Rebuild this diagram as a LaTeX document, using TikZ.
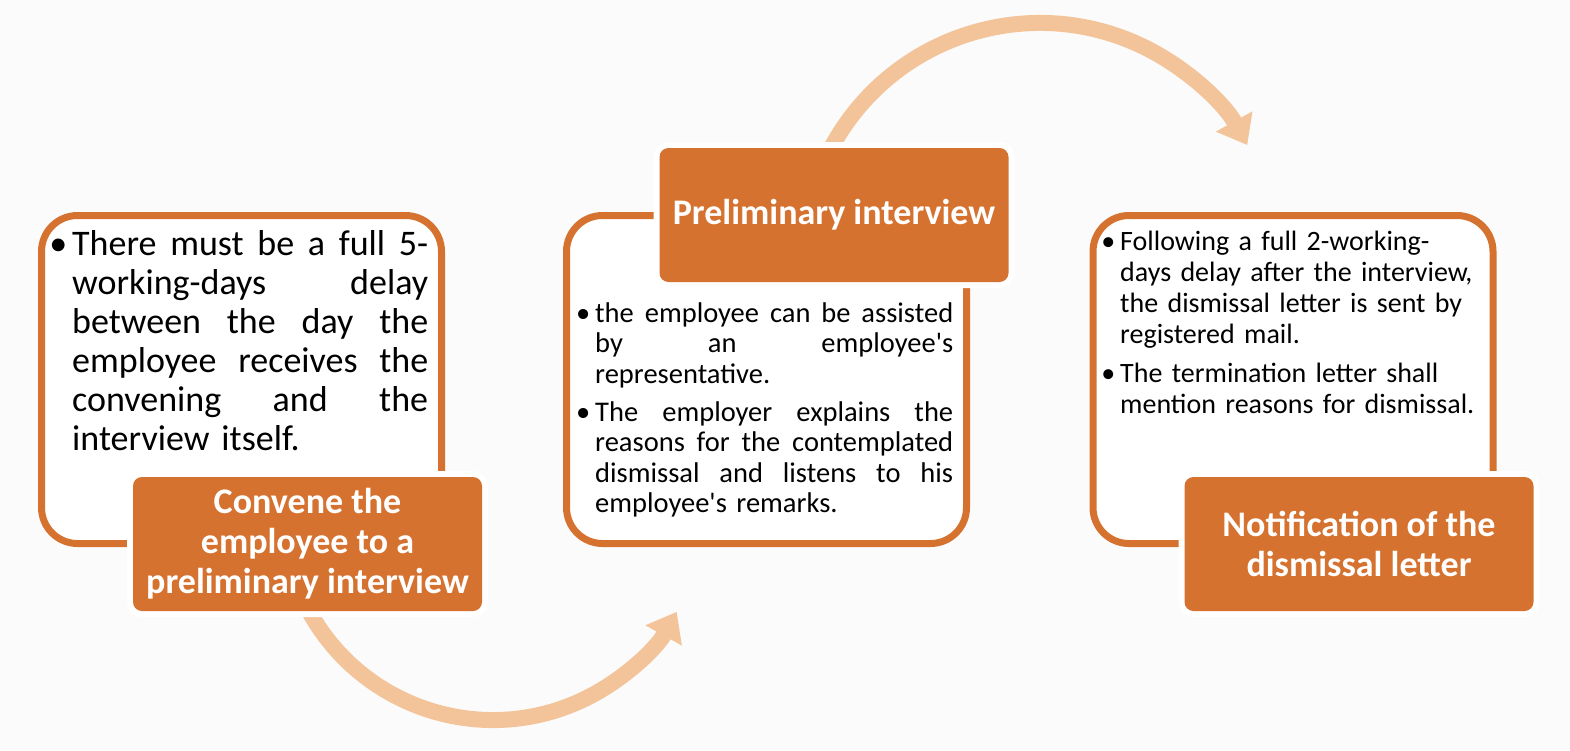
\documentclass[tikz,border=0pt]{standalone}
\usepackage{fontspec}
\setmainfont{Carlito}
\usetikzlibrary{arrows.meta}
\definecolor{bgc}{RGB}{251,251,251}
\definecolor{ora}{RGB}{214,114,48}
\definecolor{arr}{RGB}{243,196,154}
\newlength\mytw
\tikzset{
  panel/.style={draw=ora, line width=7pt, fill=white, rounded corners=36pt,
    minimum width=400pt, minimum height=328pt, inner sep=0pt},
  titlebox/.style={fill=ora, rounded corners=9pt, minimum width=349pt,
    minimum height=134pt, inner sep=0pt, text=white, align=center,
    font=\bfseries\fontsize{36}{40}\selectfont,
    preaction={draw=white, line width=12pt}},
  flow/.style={draw=arr, line width=16pt, -{Triangle[length=27pt,width=40pt]}},
  bodybig/.style={anchor=base west, inner sep=0pt, text width=356pt,
    font=\fontsize{36}{39}\selectfont},
  body/.style={anchor=base west, inner sep=0pt, text width=358pt,
    font=\fontsize{28.5}{30.5}\selectfont},
}
\newcommand\myjl[1]{\hbox to\mytw{#1}\par}
\newcommand\myll[1]{\hbox to\mytw{#1\hfil}\par}
\newcommand\mybul[1]{\leavevmode\llap{\textbullet\hspace{#1}}}
\newcommand\gap{ \hfill}
\begin{document}
\begin{tikzpicture}[x=1pt,y=-1pt]
\useasboundingbox (0,0) rectangle (1570,750);
\fill[bgc] (0,0) rectangle (1570,750);
% panels
\node[panel] (p1) at (241.5,379.5) {};
\node[panel] (p2) at (766.5,379.5) {};
\node[panel] (p3) at (1293,379.5) {};
% arrows
\coordinate (a1) at (307.6,608.6);
\coordinate (a2) at (830.7,148.7);
\draw[flow] (a1) arc[start angle=152, end angle=29, radius=210];
\draw[flow] (a2) arc[start angle=208, end angle=331, radius=237];
% texts
\setlength\mytw{356pt}
\node[bodybig] (t1) at (72,255) {%
\mybul{5pt}\myjl{There\gap must\gap be\gap a\gap full\gap 5-}
\myjl{working-days\gap delay}
\myjl{between\gap the\gap day\gap the}
\myjl{employee\gap receives\gap the}
\myjl{convening\gap and\gap the}
\myll{interview itself.}};
\setlength\mytw{358pt}
\node[body] (t2) at (595,322) {%
\mybul{5pt}\myjl{the\gap employee\gap can\gap be\gap assisted}
\myjl{by\gap an\gap employee\textquotesingle s}
\myll{representative.}
\vspace{7.5pt}
\mybul{5pt}\myjl{The\gap employer\gap explains\gap the}
\myjl{reasons\gap for\gap the\gap contemplated}
\myjl{dismissal\gap and\gap listens\gap to\gap his}
\myll{employee\textquotesingle s remarks.}};
\setlength\mytw{365pt}
\node[body, text width=365pt, font=\fontsize{28}{31}\selectfont] (t3) at (1120,250) {%
\mybul{5pt}\myll{Following a full 2-working-}
\myll{days delay after the interview,}
\myll{the dismissal letter is sent by}
\myll{registered mail.}
\vspace{8pt}
\mybul{5pt}\myll{The termination letter shall}
\myll{mention reasons for dismissal.}};
% titles
\node[titlebox] (h1) at (307.5,544) {Convene the\\employee to a\\preliminary interview};
\node[titlebox] (h2) at (834,215) {Preliminary interview};
\node[titlebox] (h3) at (1359,544) {Notification of the\\dismissal letter};
\end{tikzpicture}
\end{document}
